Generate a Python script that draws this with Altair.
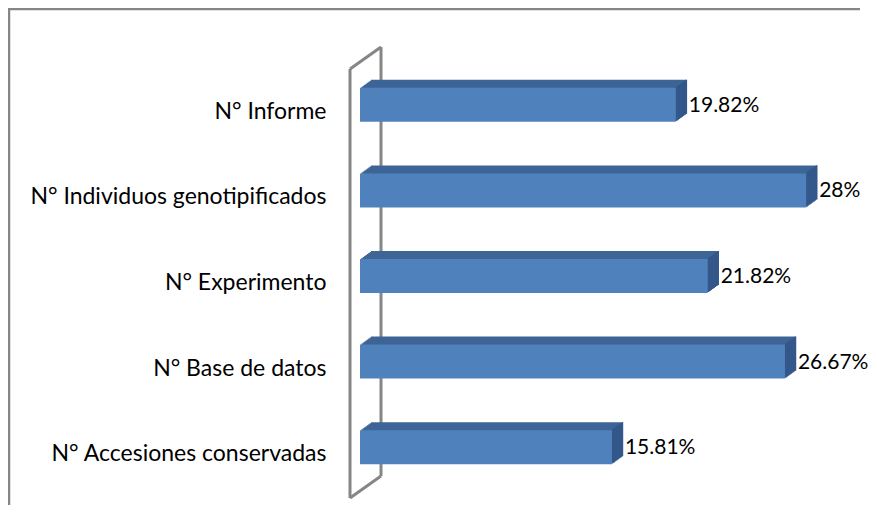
import altair as alt
import pandas as pd

categories = ["N° Informe", "N° Individuos genotipificados", "N° Experimento",
              "N° Base de datos", "N° Accesiones conservadas"]
values = [19.82, 28, 21.82, 26.67, 15.81]
labels = ["19.82%", "28%", "21.82%", "26.67%", "15.81%"]

df = pd.DataFrame({"cat": categories, "value": values, "label": labels})

FRONT = "#4F81BD"
TOP = "#3E6596"
SIDE = "#33578A"
GRAY = "#868686"
FONT = "Lato"
FS_AXIS = 23
FS_VAL = 21
BAR_H = 34
STEPS = 8
DX = 11 / STEPS  # horizontal depth per step (px)
DY = 1.0         # vertical depth per step (px)

W, H = 478, 428
PAD = {"left": 352, "top": 54, "right": 30, "bottom": 23}

base = alt.Chart(df).encode(
    y=alt.Y("cat:N", sort=categories, scale=alt.Scale(paddingInner=0, paddingOuter=0),
            axis=alt.Axis(title=None, domain=False, ticks=False, labelPadding=34,
                          labelFontSize=FS_AXIS, labelColor="black", labelFont=FONT,
                          labelLimit=0, labelOffset=7, zindex=1)),
)
xenc = alt.X("value:Q", scale=alt.Scale(domain=[0, 30], nice=False), axis=None)

layers = []

def seg(x1, y1, x2, y2, w=3):
    return alt.Chart(pd.DataFrame({"a": [0]})).mark_rule(color=GRAY, strokeWidth=w).encode(
        x=alt.value(x1), y=alt.value(y1), x2=alt.value(x2), y2=alt.value(y2))

# outer chart frame (only left and top edges are inside the picture)
right_edge = W + PAD["right"] - 8
bottom_edge = H + PAD["bottom"] - 8
layers += [
    seg(-351, -54, -351, bottom_edge, 2.5),
    seg(-352, -53, right_edge, -53, 2.5),
]
# 3D axis wall
layers += [
    seg(-10, 7, -10, 436),
    seg(21, -15, 21, 414),
    seg(-10, 7, 21, -15),
    seg(-10, 436, 21, 414),
]

# top faces (staircase of offset bars)
for k in range(STEPS, 0, -1):
    layers.append(base.mark_bar(height=BAR_H, color=TOP, xOffset=k * DX, x2Offset=k * DX,
                                yOffset=-k * DY).encode(x=xenc))
# side faces
for k in range(1, STEPS + 1):
    layers.append(base.mark_bar(height=BAR_H, color=SIDE, xOffset=(k - 1) * DX,
                                x2Offset=k * DX + 0.3, yOffset=-k * DY).encode(
        x=xenc, x2=alt.X2("value:Q")))
# front face
layers.append(base.mark_bar(height=BAR_H, color=FRONT).encode(x=xenc))
# value labels
layers.append(base.mark_text(align="left", baseline="middle", dx=13, dy=1, fontSize=FS_VAL,
                             font=FONT, color="black").encode(x=xenc, text="label:N"))

chart = alt.layer(*layers).properties(
    width=W, height=H,
    autosize=alt.AutoSizeParams(type="none"),
    padding=PAD,
).configure(background="white").configure_view(stroke=None)

chart.save("out.html", embed_options={"renderer": "svg", "actions": False})
